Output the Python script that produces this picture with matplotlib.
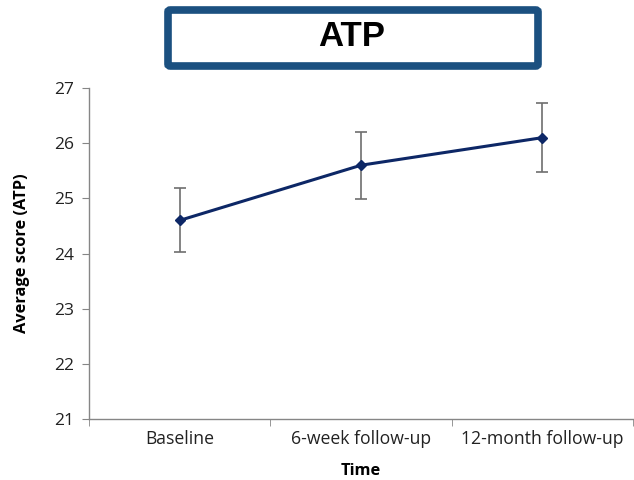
import matplotlib
matplotlib.use("Agg")
import matplotlib.pyplot as plt
from matplotlib.patches import FancyBboxPatch

# data
categories = ["Baseline", "6-week follow-up", "12-month follow-up"]
means = [24.6, 25.6, 26.1]
errors = [0.58, 0.61, 0.63]
y_ticks = [21, 22, 23, 24, 25, 26, 27]

plt.rcParams['font.family'] = ['Open Sans', 'DejaVu Sans']

fig = plt.figure(figsize=(6.34, 4.8), dpi=100)
ax = fig.add_axes([89/634, 1-419/480, (633-89)/634, (419-88)/480])

x = list(range(len(categories)))
ax.errorbar(x, means, yerr=errors, color='#0d2766', lw=2.2, marker='D', ms=5,
            ecolor='#6e6e6e', elinewidth=1.2, capsize=4, capthick=1.2, zorder=3)

ax.set_xlim(-0.5, len(categories) - 0.5)
ax.set_ylim(21, 27)
ax.set_yticks(y_ticks)
ax.set_yticklabels([str(t) for t in y_ticks], fontsize=12.5, color='#222222')
ax.set_xticks(x)
ax.set_xticklabels(categories, fontsize=12.7, color='#222222')
ax.tick_params(axis='x', length=0, pad=8)
ax.set_xticks([i - 0.5 for i in range(len(categories) + 1)], minor=True)
ax.tick_params(axis='x', which='minor', length=5, color='#868686', direction='out')
ax.tick_params(axis='y', length=5, color='#868686', direction='out', pad=6)

for side in ['top', 'right']:
    ax.spines[side].set_visible(False)
for side in ['left', 'bottom']:
    ax.spines[side].set_color('#868686')
    ax.spines[side].set_linewidth(1.0)

ax.set_ylabel("Average score (ATP)", fontsize=11.8, fontweight='bold', labelpad=17)
ax.set_xlabel("Time", fontsize=11.8, fontweight='bold', labelpad=11)

# title box
box = FancyBboxPatch((168/634, 1-66/480), (538-168)/634, (66-10)/480,
                     boxstyle="round,pad=0,rounding_size=0.004",
                     transform=fig.transFigure, facecolor='white',
                     edgecolor='#1b5080', linewidth=5.5)
fig.patches.append(box)
fig.text(352/634, 1-37/480, "ATP", ha='center', va='center', fontsize=25,
         fontweight='bold', family=['Liberation Sans', 'DejaVu Sans'])

fig.savefig("out.png", dpi=100)
